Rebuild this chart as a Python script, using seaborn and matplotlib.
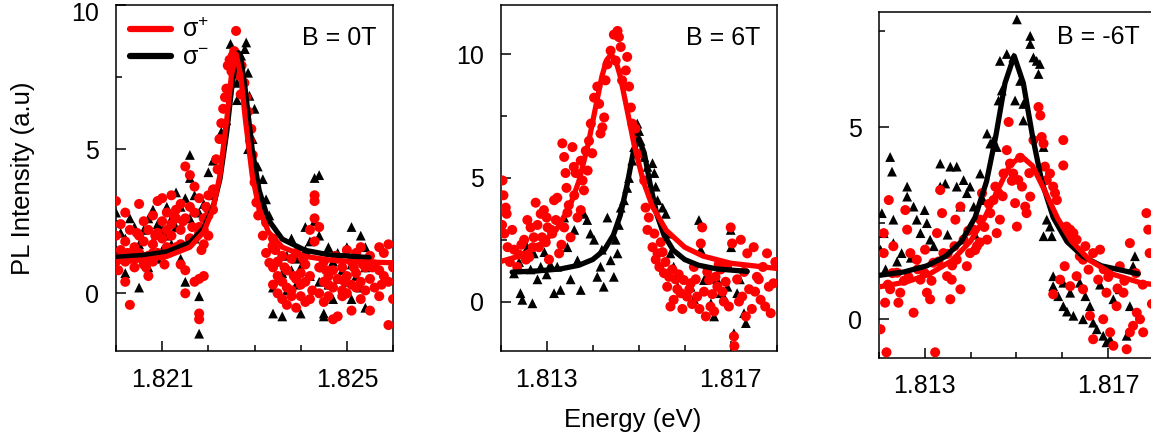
import matplotlib
matplotlib.use("Agg")
import matplotlib.pyplot as plt
import seaborn as sns
import pandas as pd
from matplotlib.ticker import MultipleLocator
from matplotlib.lines import Line2D
from matplotlib.transforms import ScaledTranslation

sns.set_style("ticks")
plt.rcParams['font.family'] = ['Liberation Sans', 'DejaVu Sans']
plt.rcParams['mathtext.fontset'] = 'custom'
plt.rcParams['mathtext.rm'] = 'Liberation Sans'
plt.rcParams['mathtext.it'] = 'Liberation Sans:italic'
plt.rcParams['mathtext.bf'] = 'Liberation Sans:bold'
for k in ['text.color', 'axes.labelcolor', 'xtick.color', 'ytick.color', 'axes.edgecolor']:
    plt.rcParams[k] = 'black'

# ---------------- data (energy eV, PL intensity a.u.) ----------------
panel_titles = ["B = 0T", "B = 6T", "B = -6T"]
legend_labels = [r"σ$^{+}$", r"σ$^{-}$"]
x_tick_values = [[1.821, 1.825], [1.813, 1.817], [1.813, 1.817]]
x_tick_labels = [["1.821", "1.825"], ["1.813", "1.817"], ["1.813", "1.817"]]
y_tick_values = [[0, 5, 10], [0, 5, 10], [0, 5]]
y_tick_labels = [["0", "5", "10"], ["0", "5", "10"], ["0", "5"]]
x_limits = [(1.820, 1.826), (1.812, 1.818), (1.812, 1.818)]
y_limits = [(-2, 10), (-2, 12), (-1, 8)]

# Panel 1 (B = 0T) measured points
p1_red = [
    (1.8200, 3.2), (1.8200, 2.0), (1.8200, 1.1), (1.8201, 2.4), (1.8201, 1.5),
    (1.8202, 1.8), (1.8202, 0.4), (1.8202, 2.8), (1.8203, -0.4), (1.8203, 1.2),
    (1.8203, 2.2), (1.8204, 1.6), (1.8204, 0.9), (1.8205, 1.4), (1.8205, 2.0),
    (1.8205, 3.1), (1.8206, 1.0), (1.8206, 1.8), (1.8206, 2.5), (1.8207, 0.6),
    (1.8207, 1.3), (1.8207, 2.2), (1.8208, 2.7), (1.8208, 1.7), (1.8208, 1.1),
    (1.8209, 2.1), (1.8209, 3.2), (1.8209, 1.4), (1.8210, 2.5), (1.8210, 3.3),
    (1.8210, 1.9), (1.8211, 2.8), (1.8211, 1.6), (1.8211, 2.2), (1.8212, 3.4),
    (1.8212, 2.4), (1.8212, 2.0), (1.8213, 2.9), (1.8213, 1.6), (1.8213, 2.6),
    (1.8214, 3.1), (1.8214, 2.2), (1.8214, 1.0), (1.8215, 4.4), (1.8215, 2.6),
    (1.8215, 0.0), (1.8215, 0.8), (1.8216, 4.1), (1.8216, 3.0), (1.8216, 1.9),
    (1.8217, 3.7), (1.8217, 2.8), (1.8217, 0.4), (1.8218, 3.3), (1.8218, 2.1),
    (1.8218, -0.7), (1.8218, -0.9), (1.8218, 0.5), (1.8219, 2.6), (1.8219, 2.2),
    (1.8219, 0.6), (1.8219, 1.7), (1.8220, 3.4), (1.8220, 2.7), (1.8220, 2.0),
    (1.8221, 3.6), (1.8221, 2.9), (1.8200, 1.2), (1.8202, 1.1), (1.8204, 1.3),
    (1.8206, 1.2), (1.8208, 1.4), (1.8210, 1.3), (1.8212, 1.5), (1.8214, 1.7),
    (1.8216, 1.9), (1.8218, 2.3), (1.82005, 0.8), (1.82025, 1.4), (1.82045, 2.1),
    (1.82065, 0.9), (1.82085, 2.0), (1.82105, 1.0), (1.82125, 2.7), (1.82145, 2.5),
    (1.82165, 2.3), (1.82185, 1.5), (1.82195, 3.0),
    (1.82212, 3.6), (1.82217, 4.65), (1.82224, 5.35), (1.82232, 6.4),
    (1.82239, 7.1), (1.82242, 7.9), (1.82246, 8.1), (1.82253, 8.25),
    (1.82260, 9.1), (1.82268, 7.55), (1.82278, 7.3), (1.82270, 6.9),
    (1.82286, 6.3), (1.82293, 5.7), (1.82296, 4.8), (1.82300, 3.85),
    (1.82304, 3.15), (1.82325, 2.45), (1.82318, 2.0), (1.82325, 1.4),
    (1.82332, 1.06), (1.82339, 1.64), (1.82220, 4.3), (1.82228, 5.9),
    (1.82236, 6.8), (1.82250, 7.7), (1.82256, 8.4), (1.82272, 7.9),
    (1.82282, 6.8), (1.82290, 5.3), (1.82308, 2.7), (1.82315, 2.9),
    (1.8234, 0.9), (1.8234, 0.3), (1.8234, 1.9), (1.8235, 0.0), (1.8235, 0.6),
    (1.8235, 1.1), (1.8236, -0.2), (1.8236, 0.4), (1.8236, 1.3), (1.8237, 0.8),
    (1.8237, -0.4), (1.8237, 0.2), (1.8238, 1.2), (1.8238, 0.1), (1.8238, -0.1),
    (1.8239, 0.5), (1.8239, -0.5), (1.8239, 1.4), (1.8240, -0.1), (1.8240, 0.7),
    (1.8240, 0.3), (1.8241, 1.0), (1.8241, -0.3), (1.8241, 0.4), (1.8242, 2.2),
    (1.8242, 0.6), (1.8242, -0.2), (1.8243, 3.2), (1.8243, 3.4), (1.8243, 2.6),
    (1.8243, 1.8), (1.8244, 2.3), (1.8244, 0.9), (1.8244, 0.0), (1.8245, 0.4),
    (1.8245, -0.3), (1.8245, 1.1), (1.8246, -0.1), (1.8246, 0.6), (1.8246, 0.3),
    (1.8247, 0.8), (1.8247, -0.9), (1.8247, 0.2), (1.8248, -0.8), (1.8248, 0.5),
    (1.8248, 1.2), (1.8249, 0.1), (1.8249, 0.9), (1.8249, -0.1), (1.8250, 0.6),
    (1.8250, 1.5), (1.8250, 0.0), (1.8251, 1.1), (1.8251, 0.3), (1.8251, -0.6),
    (1.8252, 0.7), (1.8252, 1.4), (1.8252, 0.2), (1.8253, 1.6), (1.8253, 0.4),
    (1.8253, -0.2), (1.8254, 0.1), (1.8254, 0.9), (1.8255, 1.3), (1.8255, 0.5),
    (1.8255, -0.6), (1.8256, 0.2), (1.8256, 1.0), (1.8257, 0.8), (1.8257, 1.6),
    (1.8257, -0.1), (1.8258, 1.4), (1.8258, 0.6), (1.8259, 0.4), (1.8259, 1.7),
    (1.8259, -1.1), (1.8260, 0.9), (1.8260, -0.2), (1.82345, 1.5), (1.82365, 0.9),
    (1.82385, 0.6), (1.82405, 1.2), (1.82425, 0.1), (1.82455, 0.8), (1.82475, 1.3),
    (1.82495, 0.4), (1.82515, 0.9), (1.82535, 1.0), (1.82555, 0.9), (1.82575, 0.3),
]
p1_black = [
    (1.8200, 2.8), (1.8200, 1.5), (1.8200, 0.9), (1.8201, 2.1), (1.8201, 1.2),
    (1.8202, 1.9), (1.8202, 0.7), (1.8203, 2.6), (1.8203, 1.4), (1.8204, 1.0),
    (1.8204, 2.3), (1.8205, 1.7), (1.8205, 0.2), (1.8206, 2.2), (1.8206, 1.3),
    (1.8207, 0.9), (1.8207, 2.6), (1.8208, 1.8), (1.8208, 2.9), (1.8209, 1.2),
    (1.8209, 2.4), (1.8210, 2.2), (1.8210, 1.5), (1.8211, 3.0), (1.8211, 2.0),
    (1.8212, 2.6), (1.8212, 1.7), (1.8213, 3.5), (1.8213, 2.3), (1.8214, 3.0),
    (1.8214, 1.2), (1.8215, 3.3), (1.8215, 0.4), (1.8216, 4.8), (1.8216, 4.0),
    (1.8216, 2.6), (1.8217, 3.4), (1.8217, 1.9), (1.8218, -1.4), (1.8218, -0.1),
    (1.8218, 2.8), (1.8219, 2.2), (1.8219, 3.1), (1.8220, 4.2), (1.8220, 3.0),
    (1.8221, 3.4), (1.8221, 4.6),
    (1.82228, 5.6), (1.82239, 6.0), (1.82248, 8.65), (1.82257, 7.78),
    (1.82262, 7.3), (1.82262, 6.7), (1.82271, 8.24), (1.82279, 8.47),
    (1.82282, 8.7), (1.82286, 7.65), (1.82289, 6.85), (1.82300, 6.4),
    (1.82296, 5.35), (1.82286, 5.0), (1.82307, 4.4), (1.82318, 3.96),
    (1.82325, 3.26), (1.82332, 2.7),
    (1.8234, 1.6), (1.8234, 0.2), (1.8234, -0.7), (1.8235, 1.1), (1.8235, 0.5),
    (1.8236, 0.7), (1.8236, -0.8), (1.8237, 1.3), (1.8237, 0.1), (1.8238, 0.8),
    (1.8238, 1.9), (1.8239, 0.3), (1.8239, 1.2), (1.8240, 0.9), (1.8240, -0.7),
    (1.8241, 1.5), (1.8241, 2.3), (1.8242, 0.6), (1.8242, 1.8), (1.8243, 4.0),
    (1.8243, 3.3), (1.8243, 2.5), (1.8244, 4.1), (1.8244, 2.0), (1.8244, 0.4),
    (1.8245, -0.7), (1.8245, -0.8), (1.8245, 0.9), (1.8246, 1.6), (1.8246, 0.3),
    (1.8247, 1.1), (1.8247, -0.2), (1.8248, 0.5), (1.8248, 1.4), (1.8249, 0.0),
    (1.8249, 0.8), (1.8250, 1.6), (1.8250, 0.4), (1.8251, 2.3), (1.8251, 1.0),
    (1.8251, -0.2), (1.8252, 1.3), (1.8252, 0.6), (1.8253, 2.0), (1.8253, 0.2),
    (1.8254, 1.6), (1.8254, 0.9), (1.8254, -0.5),
]
# Panel 1 fitted curves (points read along the drawn fits)
p1_red_fit = [
    (1.8200, 1.10), (1.8206, 1.16), (1.8211, 1.28), (1.8216, 1.60),
    (1.8219, 2.13), (1.8221, 2.93), (1.82225, 4.09), (1.8224, 6.05),
    (1.8225, 7.57), (1.8226, 8.30), (1.8227, 7.57), (1.8228, 6.05),
    (1.82295, 4.09), (1.8231, 2.93), (1.8233, 2.13), (1.8236, 1.60),
    (1.8241, 1.28), (1.8246, 1.16), (1.8251, 1.10), (1.8260, 1.06),
]
p1_black_fit = [
    (1.8200, 1.25), (1.8206, 1.32), (1.8211, 1.44), (1.8216, 1.76),
    (1.8219, 2.26), (1.8221, 2.97), (1.82225, 3.96), (1.8224, 5.62),
    (1.8225, 7.05), (1.8226, 8.18), (1.82265, 8.35), (1.8227, 8.18),
    (1.8228, 7.05), (1.82295, 4.98), (1.8231, 3.57), (1.8233, 2.55),
    (1.8236, 1.88), (1.8241, 1.49), (1.8246, 1.34), (1.82548, 1.24),
]

# Panel 2 (B = 6T)
p2_red = [
    (1.81204, 4.9), (1.81206, 4.3), (1.81211, 3.8), (1.81213, 3.55), (1.81208, 2.75),
    (1.81203, 3.1), (1.81225, 2.9), (1.81229, 2.1), (1.81236, 1.4), (1.81240, 1.9),
    (1.81251, 2.5), (1.81258, 3.3), (1.81265, 3.0), (1.81262, 1.8), (1.81276, 4.0),
    (1.81272, 2.6), (1.81287, 3.55), (1.81283, 2.2), (1.81294, 3.7), (1.81300, 3.4),
    (1.81298, 2.4), (1.81305, 1.7), (1.81316, 4.1), (1.81312, 2.75), (1.81323, 4.2),
    (1.81327, 1.95), (1.81334, 6.4), (1.81338, 5.85), (1.81341, 5.2), (1.81338, 3.0),
    (1.81345, 3.6), (1.81356, 6.25), (1.81359, 5.45), (1.81363, 5.2), (1.81352, 2.6),
    (1.81367, 3.4), (1.81374, 5.7), (1.81378, 4.9), (1.81374, 3.7), (1.81385, 6.1),
    (1.81381, 4.5), (1.81392, 6.5), (1.81389, 5.3), (1.81396, 7.2), (1.81399, 6.0),
    (1.81215, 2.2), (1.81245, 2.3), (1.81270, 2.2), (1.81290, 2.6), (1.81310, 2.9),
    (1.81320, 3.3), (1.81348, 3.9), (1.81360, 4.3), (1.81220, 1.6), (1.81255, 1.7),
    (1.81280, 3.1), (1.81302, 3.0), (1.81332, 2.3), (1.81343, 4.6),
    (1.81403, 8.25), (1.81410, 8.7), (1.81414, 8.0), (1.81421, 7.05), (1.81425, 7.45),
    (1.81417, 6.8), (1.81428, 8.95), (1.81432, 9.6), (1.81439, 10.15), (1.81446, 10.8),
    (1.81454, 10.95), (1.81457, 10.7), (1.81461, 10.3), (1.81450, 9.75), (1.81464, 8.95),
    (1.81472, 9.35), (1.81475, 9.9), (1.81479, 8.7), (1.81483, 7.85), (1.81486, 7.2),
    (1.81493, 7.0), (1.81497, 6.5), (1.81504, 6.0),
    (1.81512, 4.9), (1.81515, 3.8), (1.81519, 2.9), (1.81530, 2.2), (1.81534, 2.75),
    (1.81541, 1.95), (1.81545, 1.4), (1.81555, 1.15), (1.81562, 0.6), (1.81569, -0.2),
    (1.81576, 0.07), (1.81591, 0.34), (1.81598, 0.87), (1.81613, 0.74), (1.81620, 1.4),
    (1.81627, 0.2), (1.81635, 2.35), (1.81638, 3.0), (1.81646, -0.6), (1.81653, 0.87),
    (1.81660, 0.3), (1.81671, 0.6), (1.81678, 1.3), (1.81685, 0.0), (1.81700, 3.0),
    (1.81703, 2.35), (1.81707, -1.41), (1.81708, -1.8), (1.81714, 0.9), (1.81722, 2.5),
    (1.81725, 0.2), (1.81736, 1.95), (1.81740, 0.5), (1.81750, 2.2), (1.81757, 1.0),
    (1.81765, 0.07), (1.81770, 1.4), (1.81779, 1.95), (1.81783, 0.6), (1.81787, -0.47),
    (1.81793, 0.74), (1.81797, 1.6), (1.81552, 2.0), (1.81558, 1.6), (1.81566, 1.0),
    (1.81573, 1.3), (1.81584, 0.5), (1.81595, -0.3), (1.81605, 0.2), (1.81616, -0.1),
    (1.81624, 0.9), (1.81642, 0.4), (1.81649, 1.2), (1.81664, -0.4), (1.81674, 1.5),
    (1.81689, 0.8), (1.81696, -0.2), (1.81718, 0.0), (1.81729, 1.2), (1.81746, -0.3),
    (1.81761, 0.9), (1.81775, -0.2), (1.81522, 3.4), (1.81537, 1.7), (1.81548, 2.4),
    (1.81580, 0.9), (1.81610, 0.5), (1.81656, -0.2), (1.81682, 0.4), (1.81733, -0.6),
    (1.81587, 1.1), (1.81632, -0.3), (1.81667, 1.0), (1.81692, 1.4), (1.81753, 0.4),
]
p2_black = [
    (1.81229, 1.14), (1.81243, 0.34), (1.81247, 0.07), (1.81269, -0.07), (1.81258, 2.2),
    (1.81272, 1.95), (1.81287, 1.41), (1.81300, 1.1), (1.81316, 0.34), (1.81330, 0.47),
    (1.81323, 1.41), (1.81338, 3.4), (1.81345, 2.2), (1.81367, 1.67), (1.81374, 0.47),
    (1.81381, 3.55), (1.81388, 3.3), (1.81395, 2.75), (1.81403, 2.5), (1.81410, 1.0),
    (1.81417, 1.41), (1.81424, 0.6), (1.81432, 3.4), (1.81439, 1.67), (1.81446, 1.0),
    (1.81454, 1.95), (1.81461, 3.8), (1.81468, 4.1), (1.81475, 4.6), (1.81479, 5.0),
    (1.81486, 5.7), (1.81490, 6.25), (1.81493, 6.8), (1.81497, 7.2), (1.81501, 6.9),
    (1.81504, 6.5), (1.81512, 5.85), (1.81519, 5.45), (1.81530, 5.6), (1.81534, 5.2),
    (1.81537, 4.65), (1.81541, 4.1), (1.81552, 3.8), (1.81559, 3.55), (1.81562, 2.75),
    (1.81569, 1.95), (1.81576, 1.41), (1.81591, 1.0), (1.81602, 0.34), (1.81613, 0.6),
    (1.81631, 3.3), (1.81635, 2.1), (1.81642, 0.87), (1.81657, -0.07), (1.81664, -0.6),
    (1.81678, 0.34), (1.81693, 0.6), (1.81700, 2.9), (1.81701, 2.2), (1.81707, -1.28),
    (1.81714, 0.34), (1.81729, -0.47), (1.81733, -0.87), (1.81240, 1.6), (1.81265, 1.3),
    (1.81280, 0.9), (1.81295, 2.0), (1.81308, 1.5), (1.81352, 0.9), (1.81360, 2.9),
    (1.81420, 2.1), (1.81450, 2.5), (1.81457, 3.1), (1.81565, 1.2), (1.81585, 0.6),
    (1.81620, 0.1), (1.81650, 1.1), (1.81670, 0.9), (1.81685, 0.2), (1.81720, 0.9),
]
p2_red_fit = [
    (1.8120, 1.62), (1.8124, 1.84), (1.8128, 2.20), (1.8132, 2.88),
    (1.8135, 3.84), (1.8137, 4.87), (1.8139, 6.35), (1.81405, 7.74),
    (1.8142, 9.11), (1.8143, 9.76), (1.8144, 10.0), (1.8145, 9.76),
    (1.8146, 9.11), (1.81475, 7.74), (1.8149, 6.35), (1.8151, 4.87),
    (1.8153, 3.84), (1.8156, 2.88), (1.8160, 2.20), (1.8164, 1.84),
    (1.8170, 1.55), (1.8180, 1.34),
]
p2_black_fit = [
    (1.81225, 1.19), (1.8128, 1.24), (1.8133, 1.32), (1.8137, 1.47),
    (1.8140, 1.70), (1.81425, 2.08), (1.81445, 2.69), (1.8146, 3.49),
    (1.81475, 4.74), (1.81488, 6.02), (1.8150, 6.60), (1.81512, 6.02),
    (1.81525, 4.74), (1.8154, 3.49), (1.81555, 2.69), (1.81575, 2.08),
    (1.8160, 1.70), (1.8163, 1.47), (1.8167, 1.32), (1.81736, 1.22),
]

# Panel 3 (B = -6T)
p3_red = [
    (1.81204, -0.26), (1.81211, 1.72), (1.81211, 2.24), (1.81214, 0.43), (1.81222, 3.1),
    (1.81225, 0.78), (1.81232, 1.9), (1.81240, 1.21), (1.81243, 0.43), (1.81247, 0.69),
    (1.81258, 2.84), (1.81262, 2.33), (1.81269, 1.72), (1.81276, 0.17), (1.81283, 1.55),
    (1.81291, 1.03), (1.81301, 1.81), (1.81305, 0.69), (1.81312, 0.52), (1.81319, 1.47),
    (1.81327, 2.24), (1.81334, 3.36), (1.81338, 2.76), (1.81341, 1.72), (1.81349, 1.12),
    (1.81356, 0.52), (1.81359, 1.03), (1.81367, 2.59), (1.81370, 1.55), (1.81378, 2.93),
    (1.81378, 0.78), (1.81385, 2.07), (1.81392, 1.38), (1.81399, 1.72), (1.81407, 2.33),
    (1.81414, 1.9), (1.81421, 2.59), (1.81425, 3.28), (1.81436, 2.07), (1.81443, 2.76),
    (1.81450, 3.1), (1.81454, 3.45), (1.81457, 2.24), (1.81461, 3.28), (1.81464, 2.59),
    (1.81472, 3.79), (1.81479, 4.4), (1.81483, 5.13), (1.81486, 4.05), (1.81493, 3.79),
    (1.81497, 3.02), (1.81501, 2.41), (1.81504, 3.62), (1.81512, 3.45), (1.81519, 2.93),
    (1.81522, 2.76), (1.81530, 3.19), (1.81537, 4.66), (1.81548, 5.52), (1.81552, 5.3),
    (1.81555, 4.74), (1.81559, 4.57), (1.81562, 3.97), (1.81566, 3.62), (1.81573, 3.79),
    (1.81580, 3.45), (1.81584, 3.28), (1.81588, 3.1), (1.81602, 4.66), (1.81602, 4.0),
    (1.81609, 2.41), (1.81617, 2.33), (1.81624, 2.24), (1.81631, 2.07), (1.81638, 1.64),
    (1.81645, 1.55), (1.81580, 0.65), (1.81595, 1.03), (1.81605, 1.38), (1.81617, 0.86),
    (1.81631, 1.12), (1.81645, 0.78), (1.81657, 1.29), (1.81667, 1.72), (1.81678, 1.03),
    (1.81682, 1.81), (1.81696, 0.69), (1.81689, 0.0), (1.81704, -0.34), (1.81711, -0.69),
    (1.81718, 0.34), (1.81725, 1.38), (1.81733, 0.69), (1.81740, -0.78), (1.81747, -0.34),
    (1.81754, -0.17), (1.81762, 0.17), (1.81769, 0.0), (1.81776, -0.34), (1.81783, 2.76),
    (1.81787, 2.33), (1.81790, 1.72), (1.81747, 1.98), (1.81667, -0.52), (1.81660, 0.09),
    (1.81217, -0.86), (1.81323, -0.86), (1.81230, 1.2), (1.81255, 1.0), (1.81285, 1.3),
    (1.81300, 1.2), (1.81330, 1.5), (1.81350, 1.7), (1.81365, 1.9), (1.81395, 2.3),
    (1.81420, 2.0), (1.81440, 3.0), (1.81470, 3.2), (1.81490, 3.6), (1.81508, 4.2),
    (1.81528, 3.8), (1.81650, 1.9), (1.81700, 1.1), (1.81720, 0.8), (1.81760, 1.2),
    (1.81220, 0.9), (1.81265, 1.1), (1.81315, 1.0), (1.81360, 1.4), (1.81410, 1.8),
    (1.81430, 2.4), (1.81690, 1.3), (1.81735, 1.0), (1.81775, 0.9), (1.81795, 0.4),
]
p3_black = [
    (1.81225, 4.22), (1.81229, 3.84), (1.81207, 2.76), (1.81211, 2.24), (1.81204, 1.81),
    (1.81232, 2.59), (1.81232, 1.98), (1.81250, 1.72), (1.81262, 3.45), (1.81262, 3.19),
    (1.81276, 2.93), (1.81283, 2.59), (1.81291, 2.24), (1.81300, 2.84), (1.81305, 2.5),
    (1.81312, 2.07), (1.81334, 4.05), (1.81334, 3.45), (1.81345, 3.53), (1.81356, 3.97),
    (1.81370, 3.97), (1.81370, 3.45), (1.81378, 2.93), (1.81385, 3.62), (1.81392, 3.28),
    (1.81399, 3.45), (1.81407, 2.93), (1.81421, 3.79), (1.81436, 4.83), (1.81443, 4.57),
    (1.81450, 4.66), (1.81457, 4.48), (1.81461, 5.69), (1.81468, 5.95), (1.81464, 6.72),
    (1.81479, 6.9), (1.81493, 6.81), (1.81501, 7.8), (1.81508, 6.2), (1.81497, 5.69),
    (1.81515, 5.6), (1.81530, 7.37), (1.81530, 7.16), (1.81537, 6.81), (1.81544, 6.72),
    (1.81548, 6.38), (1.81551, 6.64), (1.81515, 5.17), (1.81559, 4.48), (1.81566, 2.59),
    (1.81573, 2.41), (1.81559, 2.16), (1.81577, 2.16), (1.81580, 1.12), (1.81580, 0.86),
    (1.81591, 0.6), (1.81602, 0.95), (1.81602, 0.34), (1.81617, 0.69), (1.81624, 0.09),
    (1.81638, 0.95), (1.81645, 0.0), (1.81660, 0.34), (1.81667, -0.09), (1.81675, -0.26),
    (1.81689, -0.43), (1.81696, -0.6), (1.81704, -0.52), (1.81711, 0.52), (1.81725, 1.38),
    (1.81725, 0.78), (1.81740, -0.43), (1.81747, 0.34), (1.81754, 1.38), (1.81758, 1.64),
    (1.81215, 1.3), (1.81240, 1.5), (1.81270, 1.6), (1.81320, 1.9), (1.81350, 2.2),
    (1.81410, 2.2), (1.81428, 3.1), (1.81610, 0.2), (1.81650, 0.6), (1.81682, 0.9),
]
p3_red_fit = [
    (1.8120, 0.84), (1.8126, 0.97), (1.8131, 1.17), (1.8136, 1.53),
    (1.8140, 2.03), (1.8143, 2.62), (1.8146, 3.38), (1.81485, 3.99),
    (1.8151, 4.25), (1.81535, 3.99), (1.8156, 3.38), (1.8159, 2.62),
    (1.8162, 2.03), (1.8166, 1.53), (1.8171, 1.17), (1.8177, 0.95),
    (1.8188, 0.76),
]
p3_black_fit = [
    (1.8120, 1.14), (1.81255, 1.23), (1.81305, 1.39), (1.81345, 1.63),
    (1.8138, 2.02), (1.8141, 2.65), (1.81435, 3.59), (1.81455, 4.76),
    (1.81475, 6.14), (1.81495, 6.85), (1.81515, 6.14), (1.81535, 4.76),
    (1.81555, 3.59), (1.8158, 2.65), (1.8161, 2.02), (1.81645, 1.63),
    (1.81685, 1.39), (1.81765, 1.18),
]

panels = [
    (p1_red, p1_black, p1_red_fit, p1_black_fit),
    (p2_red, p2_black, p2_red_fit, p2_black_fit),
    (p3_red, p3_black, p3_red_fit, p3_black_fit),
]

RED = "#ff0000"
BLACK = "#000000"
FS = 18

fig = plt.figure(figsize=(11.51, 4.41), dpi=100)
positions = [
    [0.1008, 0.2041, 0.2407, 0.7846],
    [0.4350, 0.2041, 0.2398, 0.7846],
    [0.7634, 0.1889, 0.2394, 0.7846],
]
title_pos = [(0.942, 0.884), (0.9395, 0.884), (0.948, 0.907)]
axes = []

for i, (red, black, red_fit, black_fit) in enumerate(panels):
    ax = fig.add_axes(positions[i])
    axes.append(ax)
    dr = pd.DataFrame(red, columns=["E", "I"])
    db = pd.DataFrame(black, columns=["E", "I"])
    fr = pd.DataFrame(red_fit, columns=["E", "I"])
    fb = pd.DataFrame(black_fit, columns=["E", "I"])
    sns.scatterplot(data=db, x="E", y="I", ax=ax, marker="^", s=50,
                    color=BLACK, edgecolor="none", linewidth=0, zorder=2)
    sns.scatterplot(data=dr, x="E", y="I", ax=ax, marker="o", s=52,
                    color=RED, edgecolor="none", linewidth=0, zorder=3)
    sns.lineplot(data=fb, x="E", y="I", ax=ax, color=BLACK, lw=3.8,
                 estimator=None, sort=False, zorder=4)
    sns.lineplot(data=fr, x="E", y="I", ax=ax, color=RED, lw=3.8,
                 estimator=None, sort=False, zorder=5)
    ax.set_xlim(*x_limits[i])
    ax.set_ylim(*y_limits[i])
    ax.set_xticks(x_tick_values[i], x_tick_labels[i])
    ax.set_yticks(y_tick_values[i], y_tick_labels[i])
    ax.xaxis.set_minor_locator(MultipleLocator(0.001))
    ax.yaxis.set_minor_locator(MultipleLocator(2.5))
    ax.tick_params(which="major", direction="in", length=7.5, width=1.1,
                   labelsize=FS, pad=12, top=False, right=False, colors="black")
    ax.tick_params(which="minor", direction="in", length=4, width=1.1,
                   top=False, right=False, colors="black")
    for sp in ax.spines.values():
        sp.set_visible(True)
        sp.set_linewidth(1.1)
        sp.set_color("black")
    ax.set_xlabel("")
    ax.set_ylabel("")
    ax.text(title_pos[i][0], title_pos[i][1], panel_titles[i], transform=ax.transAxes,
            ha="right", va="baseline", fontsize=FS, color="black")
    if i == 0:
        handles = [Line2D([], [], color=RED, lw=4.5), Line2D([], [], color=BLACK, lw=4.5)]
        ax.legend(handles, legend_labels, loc="upper left", bbox_to_anchor=(0.05, 0.962),
                  frameon=False, fontsize=FS, handlelength=1.65, handletextpad=0.45,
                  labelspacing=0.15, borderaxespad=0, borderpad=0)

fig.text(0.020, 0.5964, "PL Intensity (a.u)", rotation=90, ha="center", va="center",
         fontsize=FS + 0.5, color="black")
fig.text(0.55, 0.0317, "Energy (eV)", ha="center", va="baseline", fontsize=FS + 0.5,
         color="black")

# nudge the top "10" label of the first panel down a little, as in the reference
fig.canvas.draw()
for lab in axes[0].get_yticklabels():
    if lab.get_text() == "10":
        lab.set_transform(lab.get_transform() + ScaledTranslation(0, -7 / 100, fig.dpi_scale_trans))

fig.savefig("out.png", dpi=100)
